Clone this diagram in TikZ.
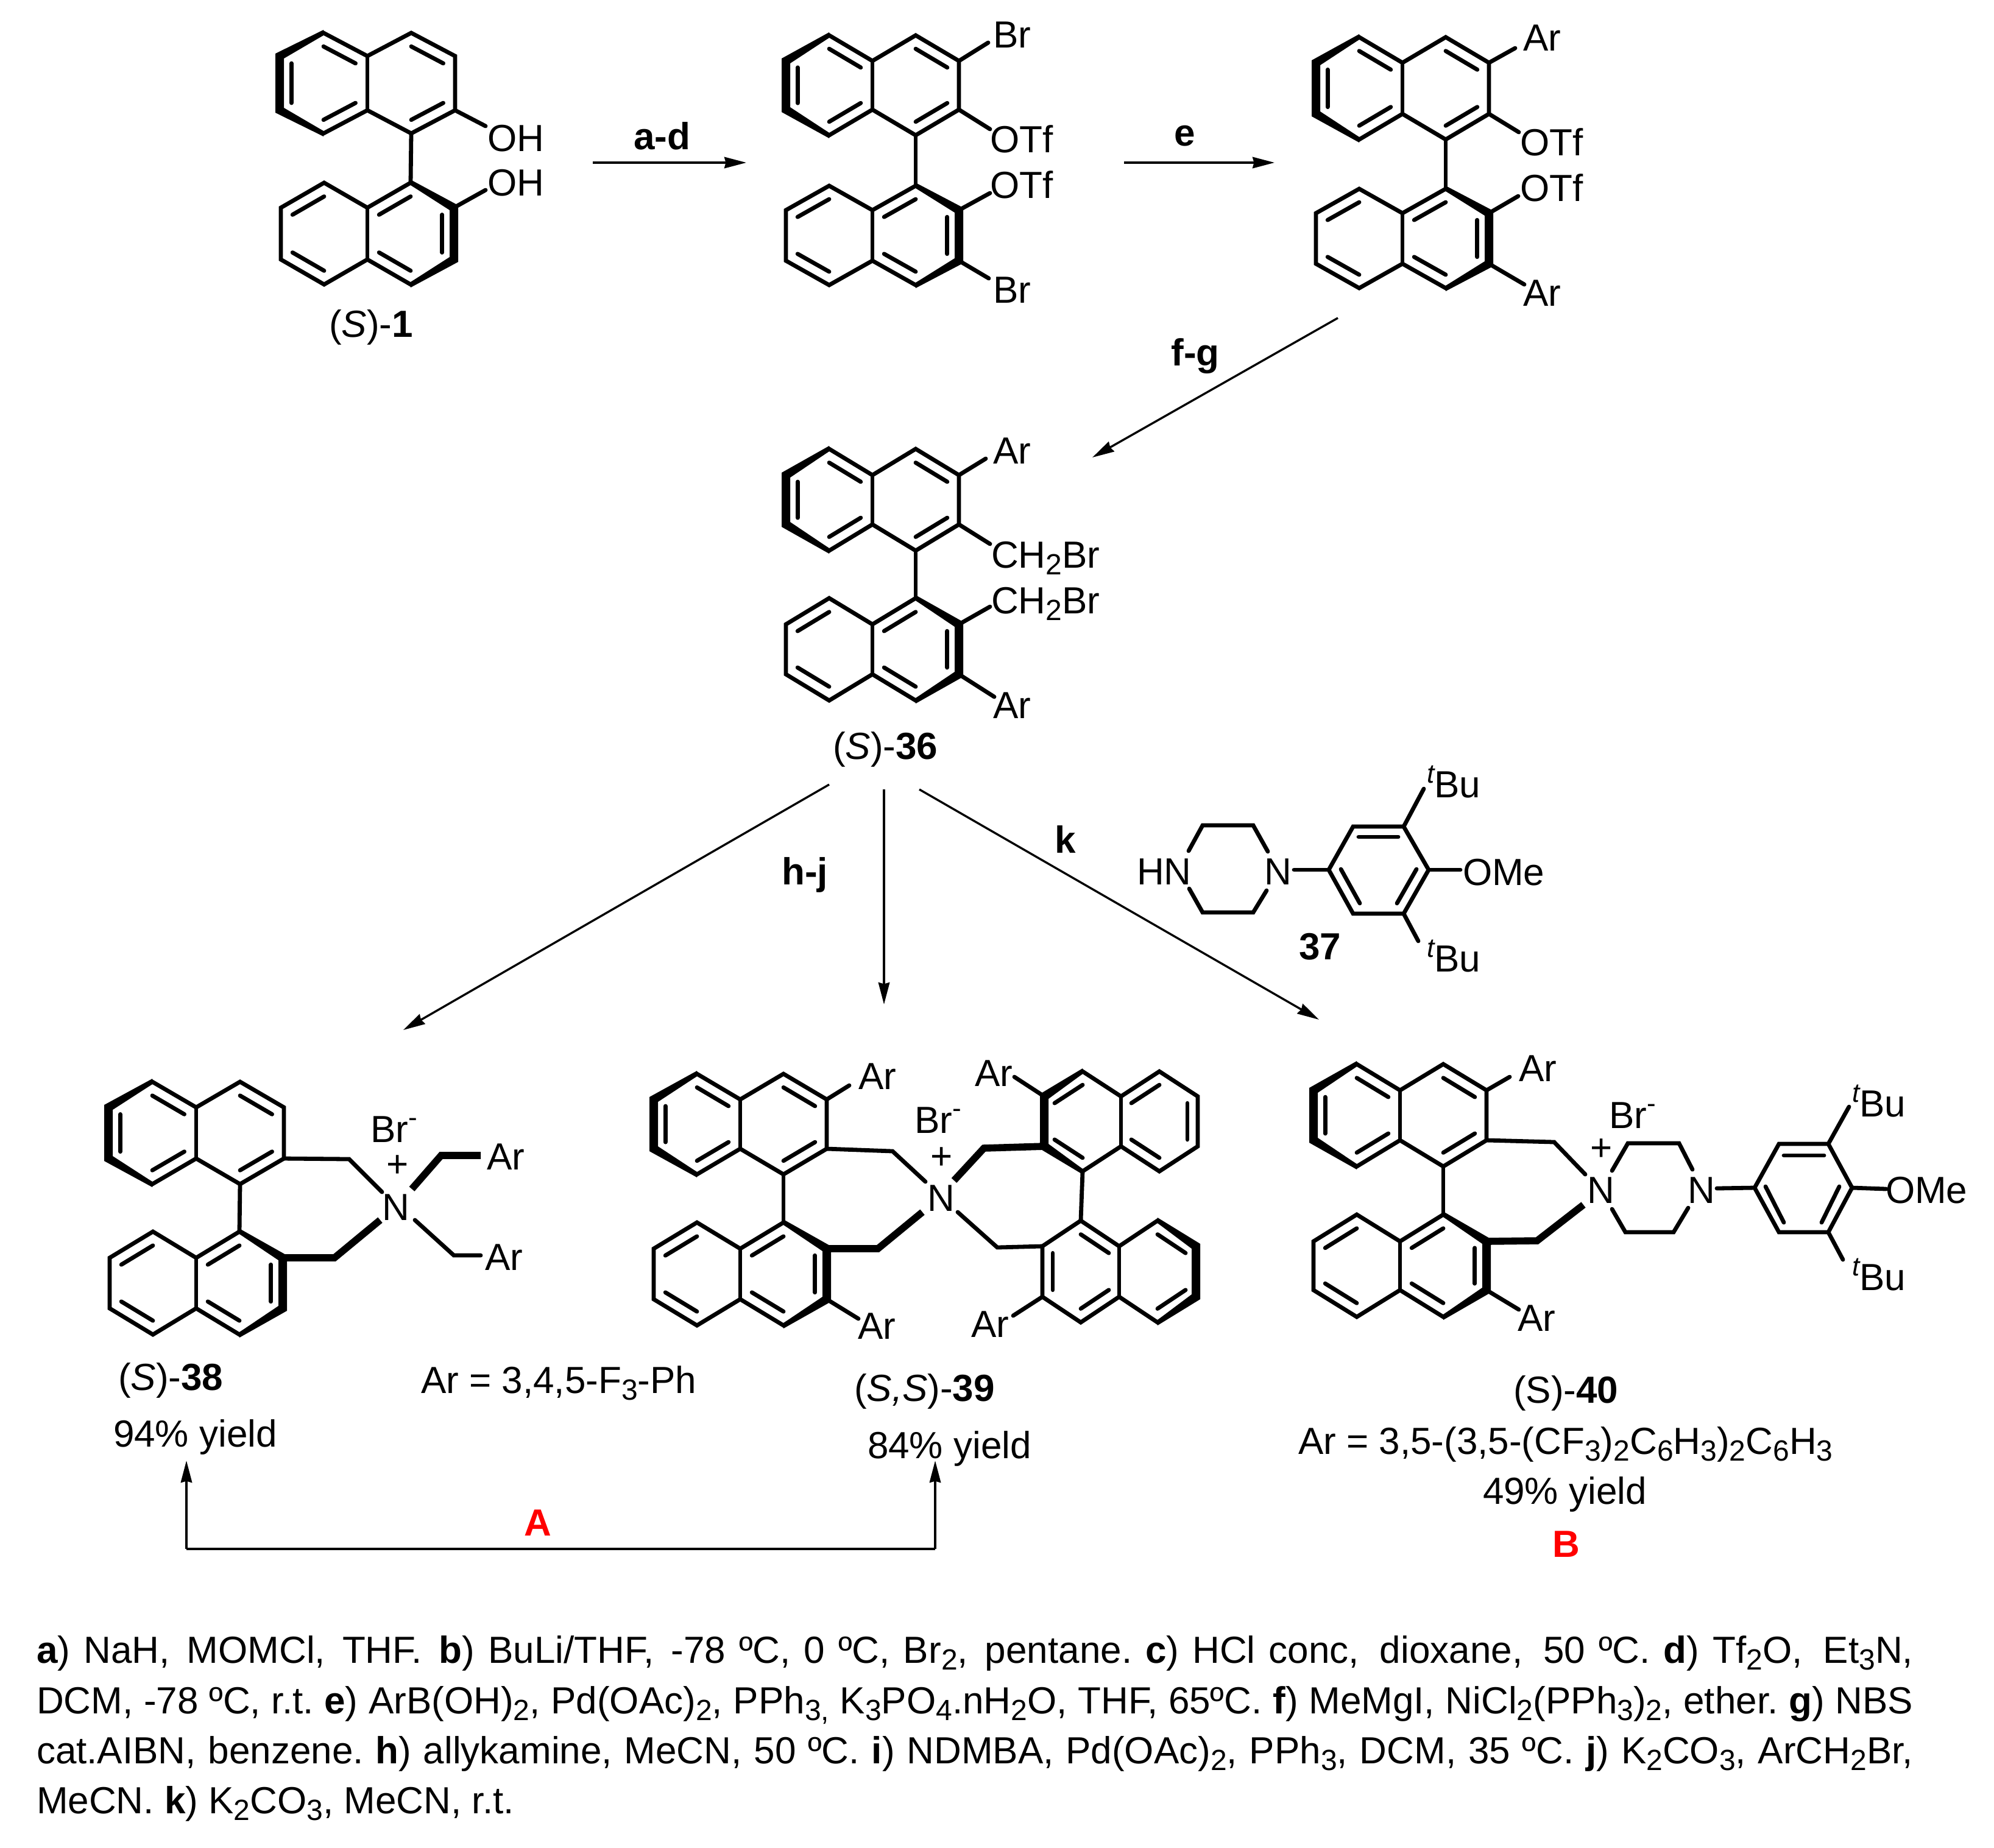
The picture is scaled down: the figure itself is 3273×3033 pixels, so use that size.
\documentclass[tikz,border=0pt]{standalone}
\usepackage{fontspec}
\setmainfont{Liberation Sans}
\usetikzlibrary{calc,arrows.meta}
\frenchspacing
\newcommand\sbs[1]{\raisebox{-2.75pt}{\fontsize{12}{12}\selectfont #1}}
\newcommand\negch{\raisebox{6.5pt}{\fontsize{11}{11}\selectfont -}}
\newcommand\tbu{\raisebox{6pt}{\fontsize{11}{11}\selectfont\itshape t}Bu}
\newcommand\NaphCo[6]{%
  \coordinate (#1f1) at (#2,#3);
  \coordinate (#1f2) at (#2,#4);
  \coordinate (#1r1) at ({#2+#5},{#3-#6});
  \coordinate (#1r2) at ({#2+2*#5},#3);
  \coordinate (#1r3) at ({#2+2*#5},#4);
  \coordinate (#1r4) at ({#2+#5},{#4+#6});
  \coordinate (#1l1) at ({#2-#5},{#3-#6});
  \coordinate (#1l2) at ({#2-2*#5},#3);
  \coordinate (#1l3) at ({#2-2*#5},#4);
  \coordinate (#1l4) at ({#2-#5},{#4+#6});
  \coordinate (#1cl) at ({#2-#5},{(#3+#4)/2});
  \coordinate (#1cr) at ({#2+#5},{(#3+#4)/2});
  \draw[ringb] (#1l1)--(#1l2)--(#1l3)--(#1l4)--(#1f2)--(#1r4)--(#1r3)--(#1r2)--(#1r1)--(#1f1)--cycle;
  \draw[ringb] (#1f1)--(#1f2);
}
\newcommand\Dbl[3]{\draw[bond] ($(#1)!.27!(#3)$) -- ($(#2)!.27!(#3)$);}
\newcommand\DblUp[1]{%
  \Dbl{#1l1}{#1f1}{#1cl}\Dbl{#1l2}{#1l3}{#1cl}\Dbl{#1l4}{#1f2}{#1cl}%
  \Dbl{#1r1}{#1r2}{#1cr}\Dbl{#1r3}{#1r4}{#1cr}}
\newcommand\DblLow[1]{%
  \Dbl{#1l1}{#1l2}{#1cl}\Dbl{#1l3}{#1l4}{#1cl}%
  \Dbl{#1r1}{#1f1}{#1cr}\Dbl{#1r2}{#1r3}{#1cr}\Dbl{#1f2}{#1r4}{#1cr}}
\newcommand\BoldSide[5]{\fill ($(#1)+(0,-5)$) -- ($(#2)+({-7*(#5)},-4)$) -- ($(#3)+({-7*(#5)},4)$) -- ($(#4)+(0,5)$) -- ($(#4)+(0,-4)$) -- ($(#3)+({7*(#5)},-4)$) -- ($(#2)+({7*(#5)},4)$) -- ($(#1)+(0,4)$) -- cycle;}
\newcommand\BoldL[1]{\BoldSide{#1l1}{#1l2}{#1l3}{#1l4}{1}}
\newcommand\BoldR[1]{\BoldSide{#1r1}{#1r2}{#1r3}{#1r4}{-1}}
\newcommand\TextLine[4]{\node[lbl] (#1) at (60,#2) {\makebox[#3][s]{#4}};}
\tikzset{
  bond/.style={line width=1.7pt,line cap=round,line join=miter},
  ringb/.style={line width=1.7pt,line join=miter},
  boldb/.style={line width=2.9pt,line cap=butt,line join=miter},
  lbl/.style={anchor=base west,inner sep=0pt,outer sep=0pt,font=\fontsize{15.5}{18}\selectfont},
  ctr/.style={lbl,anchor=center},
  bas/.style={lbl,anchor=base},
  arr/.style={line width=0.85pt,-{Stealth[length=9pt,width=4.6pt,inset=0.6pt]}},
}
\begin{document}
\begin{tikzpicture}[x=0.25pt,y=-0.25pt]
\useasboundingbox (0,0) rectangle (3273,3033);

% ---------- (S)-1
\NaphCo{a}{603}{92}{181}{72}{38}\DblUp{a}\BoldL{a}
\NaphCo{b}{603}{341}{426}{71}{41}\DblLow{b}\BoldR{b}
\draw[bond] (ar4)--(br1);
\draw[bond] (ar3)--(797,207);
\draw[bond] (br2)--(797,312);
\node[lbl] (aoh) at (800,248) {OH};
\node[lbl] (boh) at (800,321) {OH};
\node[lbl] (c1) at (540,553) {(\textit{S})-\textbf{1}};

% ---------- bis-bromide
\NaphCo{c}{1432}{100}{180}{71}{42}\DblUp{c}\BoldL{c}
\NaphCo{d}{1432}{345}{428}{71}{40}\DblLow{d}\BoldR{d}
\draw[bond] (cr4)--(dr1);
\draw[bond] (cr2)--(1622,70);
\draw[bond] (cr3)--(1625,212);
\draw[bond] (dr2)--(1625,317);
\draw[bond] (dr3)--(1623,457);
\node[lbl] (cbr) at (1630,78) {Br};
\node[lbl] (cotf) at (1625,250) {OTf};
\node[lbl] (dotf) at (1625,325) {OTf};
\node[lbl] (dbr) at (1630,497) {Br};

% ---------- bis-aryl
\NaphCo{e}{2302}{103}{187}{71}{42}\DblUp{e}\BoldL{e}
\NaphCo{f}{2302}{350}{433}{71}{40}\DblLow{f}\BoldR{f}
\draw[bond] (er4)--(fr1);
\draw[bond] (er2)--(2487,79);
\draw[bond] (er3)--(2493,217);
\draw[bond] (fr2)--(2492,322);
\draw[bond] (fr3)--(2502,467);
\node[lbl] (ear) at (2500,83) {Ar};
\node[lbl] (eotf) at (2495,255) {OTf};
\node[lbl] (fotf) at (2495,330) {OTf};
\node[lbl] (far) at (2500,502) {Ar};

% ---------- (S)-36
\NaphCo{g}{1432}{780}{861}{71}{43}\DblUp{g}\BoldL{g}
\NaphCo{h}{1432}{1025}{1107}{71}{43}\DblLow{h}\BoldR{h}
\draw[bond] (gr4)--(hr1);
\draw[bond] (gr2)--(1618,753);
\draw[bond] (gr3)--(1625,893);
\draw[bond] (hr2)--(1625,996);
\draw[bond] (hr3)--(1632,1144);
\node[lbl] (gar) at (1630,761) {Ar};
\node[lbl] (gch) at (1627,932) {CH\sbs{2}Br};
\node[lbl] (hch) at (1627,1007) {CH\sbs{2}Br};
\node[lbl] (har) at (1630,1179) {Ar};
\node[lbl] (c36) at (1367,1246) {(\textit{S})-\textbf{36}};

% ---------- 37
\draw[bond] (1951,1397)--(1974,1355)--(2057,1355)--(2081,1398);
\draw[bond] (1952,1459)--(1974,1498)--(2057,1498)--(2079,1462);
\node[lbl] (hn) at (1866,1452) {HN};
\node[bas] (n37) at (2098,1452) {N};
\coordinate (p1) at (2181,1428);
\coordinate (p2) at (2221,1357);
\coordinate (p3) at (2304,1357);
\coordinate (p4) at (2345,1428);
\coordinate (p5) at (2304,1500);
\coordinate (p6) at (2221,1500);
\draw[ringb] (p1)--(p2)--(p3)--(p4)--(p5)--(p6)--cycle;
\draw[bond] (2230,1374)--(2295,1374);
\draw[bond] (2201,1427)--(2232,1483);
\draw[bond] (2325,1427)--(2293,1483);
\draw[bond] (2124,1428)--(p1);
\draw[bond] (p3)--(2337,1295);
\draw[bond] (p5)--(2328,1545);
\draw[bond] (p4)--(2397,1428);
\node[lbl] (b37a) at (2342,1309) {\tbu};
\node[lbl] (b37b) at (2342,1595) {\tbu};
\node[lbl] (o37) at (2401,1453) {OMe};
\node[lbl] (c37) at (2132,1575) {\textbf{37}};

% ---------- (S)-38
\NaphCo{i}{322}{1818}{1902}{72}{42}\DblUp{i}\BoldL{i}
\NaphCo{j}{322}{2065}{2148}{71}{43}\DblLow{j}\BoldR{j}
\draw[bond] (ir4)--(jr1);
\draw[bond] (ir3)--(573,1903)--(627,1957);
\draw[boldb] (jr2)--(549,2065)--(624,2003);
\draw[boldb] (676,1952)--(724,1897)--(789,1897);
\draw[bond] (681,2003)--(745,2061)--(789,2061);
\node[bas] (n38) at (650,2003) {N};
\node[ctr] (p38) at (653,1915) {+};
\node[lbl] (br38) at (608,1875) {Br\negch};
\node[lbl] (a38a) at (799,1920) {Ar};
\node[lbl] (a38b) at (796,2085) {Ar};
\node[lbl] (c38) at (194,2282) {(\textit{S})-\textbf{38}};
\node[lbl] (y38) at (186,2375) {94\% yield};
\node[lbl] (def38) at (691,2287) {Ar = 3,4,5-F\sbs{3}-Ph};

% ---------- (S,S)-39
\NaphCo{k}{1215}{1805}{1886}{71}{42}\DblUp{k}\BoldL{k}
\NaphCo{l}{1215}{2050}{2133}{71}{43}\DblLow{l}\BoldR{l}
\draw[bond] (kr4)--(lr1);
\draw[bond] (kr2)--(1394,1782);
\draw[bond] (lr3)--(1409,2165);
\draw[bond] (kr3)--(1465,1890)--(1519,1940);
\draw[boldb] (lr2)--(1441,2050)--(1514,1990);
\NaphCo{m}{1840}{1800}{1882}{63}{41}\DblLow{m}\BoldL{m}
\NaphCo{o}{1837}{2046}{2129}{63}{42}\DblUp{o}\BoldR{o}
\draw[bond] (ml4)--(ol1);
\draw[bond] (ml2)--(1665,1768);
\draw[bond] (ol3)--(1663,2160);
\draw[boldb] (1566,1938)--(1615,1885)--(ml3);
\draw[bond] (1572,1990)--(1637,2048)--(ol2);
\node[bas] (n39) at (1545,1988) {N};
\node[ctr] (p39) at (1546,1902) {+};
\node[lbl] (br39) at (1501,1860) {Br\negch};
\node[lbl] (a39a) at (1409,1788) {Ar};
\node[lbl] (a39b) at (1408,2198) {Ar};
\node[lbl] (a39c) at (1600,1783) {Ar};
\node[lbl] (a39d) at (1594,2195) {Ar};
\node[lbl] (c39) at (1402,2300) {(\textit{S,S})-\textbf{39}};
\node[lbl] (y39) at (1424,2394) {84\% yield};

% ---------- (S)-40
\NaphCo{q}{2298}{1790}{1872}{71}{43}\DblUp{q}\BoldL{q}
\NaphCo{r}{2298}{2038}{2118}{71}{44}\DblLow{r}\BoldR{r}
\draw[bond] (qr4)--(rr1);
\draw[bond] (qr2)--(2478,1768);
\draw[bond] (rr3)--(2493,2150);
\draw[bond] (qr3)--(2551,1875)--(2602,1928);
\draw[boldb] (rr2)--(2523,2037)--(2599,1978);
\draw[bond] (2646,1922)--(2672,1877)--(2756,1877)--(2778,1920);
\draw[bond] (2646,1985)--(2668,2023)--(2747,2023)--(2771,1983);
\node[bas] (n40) at (2628,1975) {N};
\node[bas] (n40b) at (2793,1975) {N};
\node[ctr] (p40) at (2629,1888) {+};
\node[lbl] (br40) at (2641,1852) {Br\negch};
\coordinate (s1) at (2880,1950);
\coordinate (s2) at (2920,1878);
\coordinate (s3) at (3001,1878);
\coordinate (s4) at (3040,1950);
\coordinate (s5) at (3001,2023);
\coordinate (s6) at (2920,2023);
\draw[ringb] (s1)--(s2)--(s3)--(s4)--(s5)--(s6)--cycle;
\draw[bond] (2928,1897)--(2994,1897);
\draw[bond] (2898,1948)--(2928,2007);
\draw[bond] (3019,1948)--(2990,2007);
\draw[bond] (2818,1951)--(s1);
\draw[bond] (s3)--(3035,1817);
\draw[bond] (s5)--(3025,2068);
\draw[bond] (s4)--(3096,1952);
\node[lbl] (b40a) at (3040,1833) {\tbu};
\node[lbl] (b40b) at (3040,2118) {\tbu};
\node[lbl] (o40) at (3095,1975) {OMe};
\node[lbl] (a40a) at (2493,1775) {Ar};
\node[lbl] (a40b) at (2491,2185) {Ar};
\node[lbl] (c40) at (2484,2303) {(S)-\textbf{40}};
\node[lbl] (def40) at (2131,2387) {Ar = 3,5-(3,5-(CF\sbs{3})\sbs{2}C\sbs{6}H\sbs{3})\sbs{2}C\sbs{6}H\sbs{3}};
\node[lbl] (y40) at (2434,2469) {49\% yield};
\node[ctr,text=red] (labB) at (2571,2535) {\textbf{B}};

% ---------- arrows
\coordinate (ar1s) at (973,267);  \coordinate (ar1e) at (1225,267);
\coordinate (ar2s) at (1845,267); \coordinate (ar2e) at (2092,267);
\coordinate (ar3s) at (2196,522); \coordinate (ar3e) at (1793,751);
\coordinate (ar4s) at (1361,1288);\coordinate (ar4e) at (662,1691);
\coordinate (ar5s) at (1451,1296);\coordinate (ar5e) at (1451,1649);
\coordinate (ar6s) at (1509,1296);\coordinate (ar6e) at (2165,1674);
\draw[arr] (ar1s)--(ar1e);
\draw[arr] (ar2s)--(ar2e);
\draw[arr] (ar3s)--(ar3e);
\draw[arr] (ar4s)--(ar4e);
\draw[arr] (ar5s)--(ar5e);
\draw[arr] (ar6s)--(ar6e);
\node[ctr] (lad) at (1087,223) {\textbf{a-d}};
\node[ctr] (le) at (1945,223) {\textbf{e}};
\node[ctr] (lfg) at (1962,585) {\textbf{f-g}};
\node[ctr] (lhj) at (1321,1436) {\textbf{h-j}};
\node[ctr] (lk) at (1749,1378) {\textbf{k}};
\coordinate (brt1) at (306,2398);
\coordinate (brc1) at (306,2543);
\coordinate (brc2) at (1535,2543);
\coordinate (brt2) at (1535,2398);
\draw[arr] (brc1)--(brt1);
\draw[arr] (brc2)--(brt2);
\draw[line width=1pt] (brc1)--(brc2);
\node[ctr,text=red] (labA) at (883,2500) {\textbf{A}};

% ---------- footnote
\TextLine{t1}{2730}{770pt}{\textbf{a}) NaH,\hspace{1.5pt} MOMCl,\hspace{1.5pt} THF.\hspace{1.5pt} \textbf{b}) BuLi/THF,\hspace{1.5pt} -78 ºC, 0 ºC, Br\sbs{2},\hspace{1.5pt} pentane. \textbf{c}) HCl conc,\hspace{3pt} dioxane,\hspace{3pt} 50 ºC. \textbf{d}) Tf\sbs{2}O,\hspace{3pt} Et\sbs{3}N,}
\TextLine{t2}{2813}{770pt}{DCM, -78 ºC, r.t. \textbf{e}) ArB(OH)\sbs{2}, Pd(OAc)\sbs{2}, PPh\sbs{3,} K\sbs{3}PO\sbs{4}.nH\sbs{2}O, THF, 65ºC. \textbf{f}) MeMgI, NiCl\sbs{2}(PPh\sbs{3})\sbs{2}, ether. \textbf{g}) NBS}
\TextLine{t3}{2895}{770pt}{cat.AIBN, benzene. \textbf{h}) allykamine, MeCN, 50 ºC. \textbf{i}) NDMBA, Pd(OAc)\sbs{2}, PPh\sbs{3}, DCM, 35 ºC. \textbf{j}) K\sbs{2}CO\sbs{3}, ArCH\sbs{2}Br,}
\node[lbl] (t4) at (60,2977) {MeCN. \textbf{k}) K\sbs{2}CO\sbs{3}, MeCN, r.t.};
\end{tikzpicture}
\end{document}
